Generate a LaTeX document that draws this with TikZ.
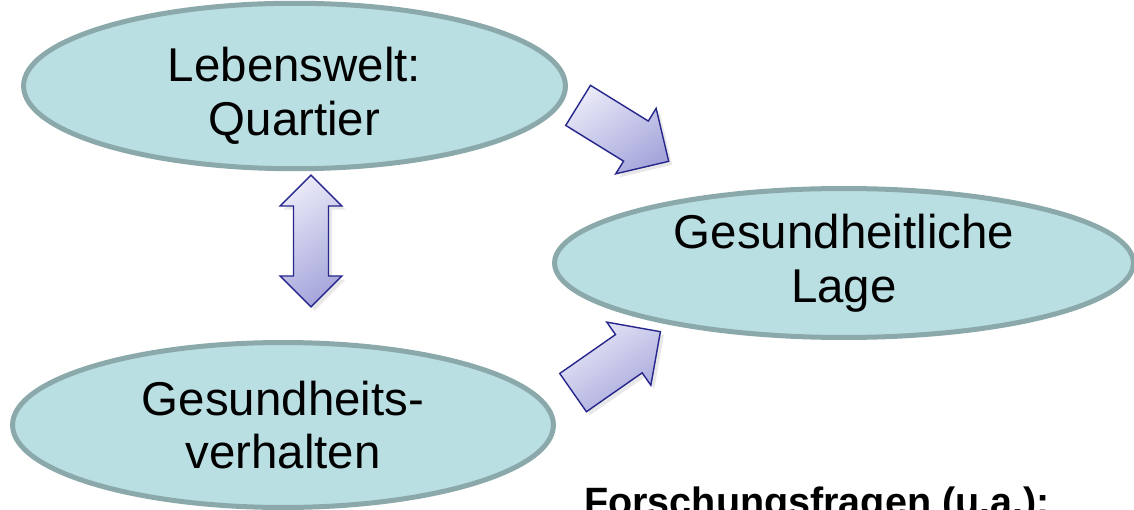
\documentclass[tikz,border=0pt]{standalone}
\usepackage{fontspec}
\setmainfont{Liberation Sans}
\usetikzlibrary{shapes.geometric,shapes.arrows,shadows}
\definecolor{qfill}{RGB}{185,223,227}
\definecolor{qline}{RGB}{139,169,170}
\definecolor{plight}{RGB}{232,232,247}
\definecolor{pdark}{RGB}{166,166,220}
\definecolor{pline}{RGB}{38,38,140}

\begin{document}
\begin{tikzpicture}[x=.02cm,y=-.02cm,
  feld/.style={ellipse,draw=qline,fill=qfill,line width=.1cm,inner sep=0pt,
    align=center,font=\fontsize{27}{30.5}\selectfont},
  pfeil/.style={draw=pline,line width=.8pt,top color=plight,bottom color=pdark,
    shading angle=35,
    drop shadow={opacity=.18,shadow xshift=2pt,shadow yshift=-2pt},
    inner xsep=0pt}]
  \useasboundingbox (0,0) rectangle (1134,510);
  \clip (0,0) rectangle (1134,510);
  \node[feld,minimum width=10.84cm,minimum height=3.14cm] (lebenswelt)
    at (294.5,86) {\rule{0pt}{31pt}Lebenswelt:\\Quartier};
  \node[feld,minimum width=11.58cm,minimum height=2.98cm] (lage)
    at (844,263) {Gesundheitliche\\Lage};
  \node[feld,minimum width=10.82cm,minimum height=3.3cm] (verhalten)
    at (283,425) {Gesundheits-\\verhalten};
  \node[pfeil,double arrow,double arrow tip angle=90,rotate=-90,
    minimum height=2.64cm,minimum width=1.24cm,inner ysep=.31cm] (wechsel)
    at (311,241) {};
  \node[pfeil,single arrow,single arrow tip angle=90,rotate=-31.7,anchor=tail,
    minimum height=2.13cm,minimum width=1.54cm,inner ysep=.38cm] (wirktA)
    at (577.5,105) {};
  \node[pfeil,single arrow,single arrow tip angle=90,rotate=34.9,anchor=tail,
    minimum height=2.13cm,minimum width=1.54cm,inner ysep=.37cm] (wirktB)
    at (572.5,393) {};
  \node[anchor=base west,font=\bfseries\fontsize{22.5}{26}\selectfont] (fragen)
    at (578,515) {Forschungsfragen (u.a.):};
\end{tikzpicture}
\end{document}
